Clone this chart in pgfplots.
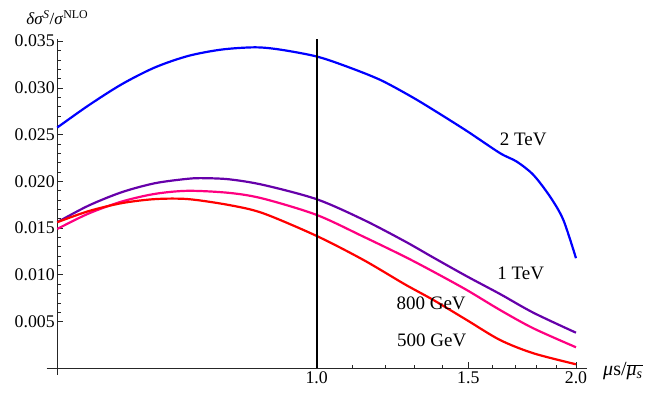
\documentclass[border=0pt]{standalone}
\usepackage{fontspec}
\setmainfont{Liberation Serif}
\usepackage{pgfplots}
\pgfplotsset{compat=1.18}
\definecolor{cblue}{RGB}{0,0,255}
\definecolor{cpurple}{RGB}{102,0,170}
\definecolor{cpink}{RGB}{255,0,128}
\definecolor{cred}{RGB}{255,0,0}
\begin{document}
\begin{tikzpicture}
\path[use as bounding box] (-57.3pt,-24.7pt) rectangle (588.7pt,368.3pt);
\begin{axis}[
  scale only axis, width=529.4pt, height=329pt,
  at={(0pt,0pt)}, anchor=south west,
  xmode=log, xmin=0.5, xmax=2.058, ymin=0, ymax=0.0352,
  axis lines=left, axis line style={-, line width=1pt, black!85},
  clip=false,
  xtick={1,1.5,2}, xticklabels={1.0,1.5,2.0},
  minor xtick={1.1,1.2,1.3,1.4,1.6,1.7,1.8,1.9},
  ytick={0.005,0.010,0.015,0.020,0.025,0.030,0.035},
  yticklabels={0.005,0.010,0.015,0.020,0.025,0.030,0.035},
  minor y tick num=4,
  scaled y ticks=false,
  tick align=inside, major tick length=6pt, minor tick length=3.5pt,
  tick style={black!85, line width=0.7pt},
  ticklabel style={font=\fontsize{17.8}{20}\selectfont},
  yticklabel style={xshift=1pt},
  /pgf/number format/assume math mode=true,
  every axis plot/.append style={line width=2.2pt},
]
\addplot[cblue, smooth] coordinates {
(0.5,0.02576) (0.5434,0.02812) (0.5940,0.03039) (0.6491,0.03219) (0.7095,0.03342)
(0.7757,0.03410) (0.8480,0.03434) (0.9067,0.0341) (1.0,0.03336) (1.0837,0.03229)
(1.1845,0.03087) (1.2833,0.02915) (1.3659,0.02765) (1.4933,0.0254) (1.6324,0.02302)
(1.7067,0.02212) (1.7843,0.0207) (1.8659,0.01837) (1.9333,0.01588) (2.0,0.01178)};
\addplot[cpurple, smooth] coordinates {
(0.5,0.01563) (0.5434,0.0174) (0.5940,0.01884) (0.6491,0.0198) (0.7095,0.02028)
(0.7420,0.02034) (0.7933,0.02021) (0.8671,0.01962) (1.0,0.01809) (1.1328,0.01590)
(1.265,0.01360) (1.3659,0.01185) (1.4933,0.00985) (1.6324,0.00795) (1.7843,0.00595)
(2.0,0.00381)};
\addplot[cpink, smooth] coordinates {
(0.5,0.01491) (0.5434,0.01655) (0.5940,0.01784) (0.6491,0.01866) (0.7095,0.01899)
(0.7933,0.01876) (0.8671,0.01815) (1.0,0.01641) (1.1328,0.01409) (1.265,0.01195)
(1.3659,0.01034) (1.4933,0.00838) (1.6324,0.00624) (1.7843,0.00428) (2.0,0.00225)};
\addplot[cred, smooth] coordinates {
(0.5,0.01563) (0.5434,0.01681) (0.5940,0.01767) (0.6491,0.01810) (0.7095,0.01810)
(0.7933,0.01745) (0.8671,0.01658) (1.0,0.01416) (1.1328,0.0116) (1.265,0.009)
(1.3659,0.00731) (1.4933,0.00517) (1.6324,0.00303) (1.7843,0.00161) (2.0,0.00043)};
\addplot[black, line width=2pt] coordinates {(1,0) (1,0.0352)};
\draw[line width=1pt, black!85] (axis cs:0.486,0) -- (axis cs:0.5,0);
\draw[line width=1pt, black!85] (axis cs:0.5,0) -- (axis cs:0.5,-0.0007);
\node[anchor=base, font=\fontsize{19}{22}\selectfont] at (axis cs:1.737,0.0238) {2 TeV};
\node[anchor=base, font=\fontsize{19}{22}\selectfont] at (axis cs:1.725,0.00945) {1 TeV};
\node[anchor=base, font=\fontsize{19}{22}\selectfont] at (axis cs:1.358,0.00624) {800 GeV};
\node[anchor=base, font=\fontsize{19}{22}\selectfont] at (axis cs:1.36,0.00231) {500 GeV};
\node[anchor=base, font=\fontsize{17}{20}\selectfont, yshift=15pt] at (axis cs:0.5,0.0352)
  {\textit{δσ}\textsuperscript{\textit{S}}/\textit{σ}\textsuperscript{NLO}};
\node[anchor=west, font=\fontsize{20}{22}\selectfont, xshift=13pt, yshift=-3pt] at (axis cs:2.058,0)
  {\textit{μ}s/$\overline{\hbox{\textit{μ}\textsubscript{\textit{s}}}}$};
\end{axis}
\end{tikzpicture}
\end{document}
